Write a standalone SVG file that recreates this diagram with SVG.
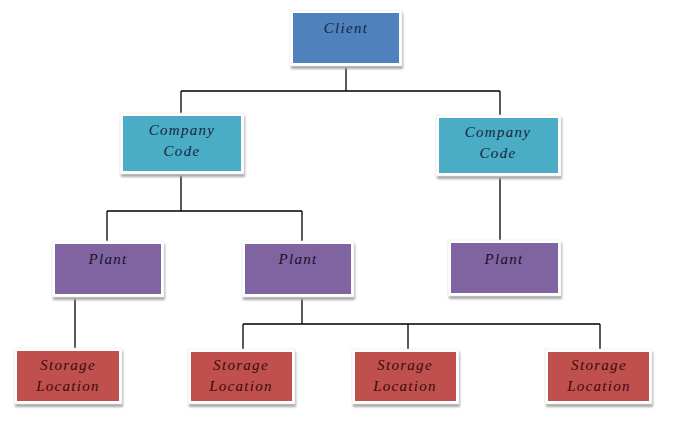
<svg xmlns="http://www.w3.org/2000/svg" width="688" height="440" viewBox="0 0 688 440">
<defs>
<filter id="sh" x="-10%" y="-10%" width="130%" height="140%">
<feGaussianBlur stdDeviation="1"/>
</filter>
</defs>
<style>
.bg{fill:#ffffff}
.conn{fill:none;stroke:#000000;stroke-width:1.3}
.shadow{fill:#a8a8a8;filter:url(#sh)}
.frame{fill:#ffffff;stroke:#e6e6ea;stroke-width:0.6}
.client{fill:#4f81bd}
.cc{fill:#4bacc6}
.plant{fill:#8064a2}
.sl{fill:#c0504d}
text{font-family:"Liberation Serif","DejaVu Serif",serif;font-style:italic;font-size:15px;letter-spacing:1.3px;text-anchor:middle}
.tc{fill:#17243d}
.tp{fill:#1a1028}
.ts{fill:#3a0b0a}
</style>
<rect class="bg" x="0" y="0" width="688" height="440"/>
<g id="connectors">
<path class="conn" d="M346 63 V91 M181 91 H500 M181 91 V116 M500 91 V118"/>
<path class="conn" d="M181 171 V211 M107 211 H302 M107 211 V244 M302 211 V244"/>
<path class="conn" d="M500 173 V243"/>
<path class="conn" d="M75 294 V351"/>
<path class="conn" d="M302 294 V324 M243 324 H600 M243 324 V352 M408 324 V352 M600 324 V352"/>
</g>
<g id="client">
<rect class="shadow" x="291" y="13" width="112" height="56"/>
<rect class="frame" x="290" y="10" width="112" height="56"/>
<rect class="client" x="293" y="13" width="106" height="50"/>
<text class="tc" x="346" y="33">Client</text>
</g>
<g id="company-code-1">
<rect class="shadow" x="121" y="116" width="124" height="61"/>
<rect class="frame" x="120" y="113" width="124" height="61"/>
<rect class="cc" x="123" y="116" width="118" height="55"/>
<text class="tc" x="182" y="135">Company</text>
<text class="tc" x="182" y="156">Code</text>
</g>
<g id="company-code-2">
<rect class="shadow" x="437" y="118" width="125" height="61"/>
<rect class="frame" x="436" y="115" width="125" height="61"/>
<rect class="cc" x="439" y="118" width="119" height="55"/>
<text class="tc" x="498" y="137">Company</text>
<text class="tc" x="498" y="158">Code</text>
</g>
<g id="plant-1">
<rect class="shadow" x="53" y="244" width="112" height="56"/>
<rect class="frame" x="52" y="241" width="112" height="56"/>
<rect class="plant" x="55" y="244" width="106" height="50"/>
<text class="tp" x="108" y="264">Plant</text>
</g>
<g id="plant-2">
<rect class="shadow" x="243" y="244" width="112" height="56"/>
<rect class="frame" x="242" y="241" width="112" height="56"/>
<rect class="plant" x="245" y="244" width="106" height="50"/>
<text class="tp" x="298" y="264">Plant</text>
</g>
<g id="plant-3">
<rect class="shadow" x="449" y="243" width="113" height="56"/>
<rect class="frame" x="448" y="240" width="113" height="56"/>
<rect class="plant" x="451" y="243" width="107" height="50"/>
<text class="tp" x="504" y="264">Plant</text>
</g>
<g id="storage-1">
<rect class="shadow" x="15" y="351" width="108" height="56"/>
<rect class="frame" x="14" y="348" width="108" height="56"/>
<rect class="sl" x="17" y="351" width="102" height="50"/>
<text class="ts" x="68" y="370">Storage</text>
<text class="ts" x="68" y="391">Location</text>
</g>
<g id="storage-2">
<rect class="shadow" x="189" y="352" width="107" height="55"/>
<rect class="frame" x="188" y="349" width="107" height="55"/>
<rect class="sl" x="191" y="352" width="101" height="49"/>
<text class="ts" x="241" y="370">Storage</text>
<text class="ts" x="241" y="391">Location</text>
</g>
<g id="storage-3">
<rect class="shadow" x="353" y="352" width="107" height="55"/>
<rect class="frame" x="352" y="349" width="107" height="55"/>
<rect class="sl" x="355" y="352" width="101" height="49"/>
<text class="ts" x="405" y="370">Storage</text>
<text class="ts" x="405" y="391">Location</text>
</g>
<g id="storage-4">
<rect class="shadow" x="546" y="352" width="107" height="55"/>
<rect class="frame" x="545" y="349" width="107" height="55"/>
<rect class="sl" x="548" y="352" width="101" height="49"/>
<text class="ts" x="599" y="370">Storage</text>
<text class="ts" x="599" y="391">Location</text>
</g>
</svg>
